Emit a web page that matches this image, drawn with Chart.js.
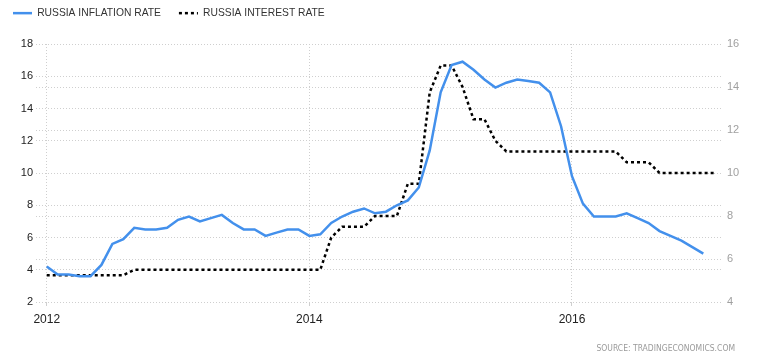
<!DOCTYPE html>
<html>
<head>
<meta charset="utf-8">
<script src="https://cdn.jsdelivr.net/npm/chart.js@4.4.1/dist/chart.umd.min.js"></script>
<style>
  html, body { margin: 0; padding: 0; background: #fff; }
  #wrap { position: relative; width: 767px; height: 363px; }
</style>
</head>
<body>
<div id="wrap"><canvas id="ratesChart"></canvas></div>
<script>
// Données mensuelles, index 0 = janvier 2012
const inflationRate = [
  4.2, 3.7, 3.7, 3.6, 3.6, 4.3, 5.6, 5.9, 6.6, 6.5, 6.5, 6.6,
  7.1, 7.3, 7.0, 7.2, 7.4, 6.9, 6.5, 6.5, 6.1, 6.3, 6.5, 6.5,
  6.1, 6.2, 6.9, 7.3, 7.6, 7.8, 7.5, 7.6, 8.0, 8.3, 9.1, 11.4,
  15.0, 16.7, 16.9, 16.4, 15.8, 15.3, 15.6, 15.8, 15.7, 15.6, 15.0, 12.9,
  9.8, 8.1, 7.3, 7.3, 7.3, 7.5, 7.2, 6.9, 6.4, 6.1, 5.8, 5.4,
  5.0
];
const interestRate = [
  5.25, 5.25, 5.25, 5.25, 5.25, 5.25, 5.25, 5.25, 5.5, 5.5, 5.5, 5.5,
  5.5, 5.5, 5.5, 5.5, 5.5, 5.5, 5.5, 5.5, 5.5, 5.5, 5.5, 5.5,
  5.5, 5.5, 7.0, 7.5, 7.5, 7.5, 8.0, 8.0, 8.0, 9.5, 9.5, 13.75,
  15.0, 15.0, 14.0, 12.5, 12.5, 11.5, 11.0, 11.0, 11.0, 11.0, 11.0, 11.0,
  11.0, 11.0, 11.0, 11.0, 11.0, 10.5, 10.5, 10.5, 10.0, 10.0, 10.0, 10.0,
  10.0, 10.0
];
const yearTickValues = [0, 24, 48];
const yearTickLabels = ['2012', '2014', '2016'];

const toPoints = (arr) => arr.map((v, i) => ({ x: i, y: v }));

const gridColor = '#cfcfcf';

// Texte de la source en bas à droite
const sourcePlugin = {
  id: 'sourceText',
  afterDraw(chart) {
    const ctx = chart.ctx;
    ctx.save();
    ctx.font = '8.5px "DejaVu Sans Condensed", "DejaVu Sans", sans-serif';
    ctx.fillStyle = '#9a9a9a';
    ctx.textAlign = 'right';
    ctx.textBaseline = 'middle';
    ctx.fillText('SOURCE: TRADINGECONOMICS.COM', 735, 349);
    ctx.restore();
  }
};

// Hauteur fixe de la légende + décalage
const legendPlacement = {
  id: 'legendPlacement',
  beforeInit(chart) {
    const fit = chart.legend.fit;
    chart.legend.fit = function() {
      fit.call(this);
      this.height = 44;
    };
  },
  afterLayout(chart) {
    chart.legend.left = -5;
    chart.legend.top = -10;
  }
};

new Chart(document.getElementById('ratesChart'), {
  type: 'line',
  data: {
    datasets: [
      {
        label: 'RUSSIA INFLATION RATE',
        data: toPoints(inflationRate),
        yAxisID: 'y',
        borderColor: '#4390ec',
        backgroundColor: '#4390ec',
        borderWidth: 2.5,
        pointRadius: 0,
        tension: 0,
        fill: false
      },
      {
        label: 'RUSSIA INTEREST RATE',
        data: toPoints(interestRate),
        yAxisID: 'y2',
        borderColor: '#000',
        backgroundColor: '#000',
        borderWidth: 2.5,
        borderDash: [3, 3],
        pointRadius: 0,
        tension: 0,
        fill: false
      }
    ]
  },
  options: {
    responsive: true,
    maintainAspectRatio: false,
    animation: false,
    layout: { padding: 0 },
    plugins: {
      legend: {
        display: true,
        position: 'top',
        align: 'start',
        labels: {
          usePointStyle: true,
          pointStyle: 'line',
          pointStyleWidth: 19,
          padding: 18,
          color: '#333',
          font: { family: '"Liberation Sans", Arial, sans-serif', size: 10.3 },
          // le pointillé du dataset n'est pas repris par défaut avec usePointStyle
          generateLabels(chart) {
            const items = Chart.defaults.plugins.legend.labels.generateLabels(chart);
            items.forEach(item => {
              const ds = chart.data.datasets[item.datasetIndex];
              item.lineDash = ds.borderDash || [];
              item.lineWidth = ds.borderWidth;
            });
            return items;
          }
        }
      },
      tooltip: { enabled: false }
    },
    scales: {
      x: {
        type: 'linear',
        min: -0.98,
        max: 61.8,
        afterBuildTicks(scale) {
          scale.ticks = yearTickValues.map(v => ({ value: v }));
        },
        afterFit(scale) { scale.height = 61; },
        ticks: {
          padding: 6,
          color: '#222',
          font: { family: '"Liberation Sans", Arial, sans-serif', size: 12 },
          callback: (value) => yearTickLabels[yearTickValues.indexOf(value)]
        },
        grid: {
          color: gridColor,
          drawTicks: true,
          tickLength: 4
        },
        border: { display: false, dash: [1, 2] }
      },
      y: {
        position: 'left',
        min: 2,
        max: 18,
        afterFit(scale) { scale.width = 36; },
        ticks: {
          stepSize: 2,
          padding: 3,
          color: '#222',
          font: { family: '"Liberation Sans", Arial, sans-serif', size: 11 }
        },
        grid: { color: gridColor, drawTicks: false },
        border: { display: false, dash: [1, 2] }
      },
      y2: {
        position: 'right',
        min: 4,
        max: 16,
        afterFit(scale) { scale.width = 44; },
        ticks: {
          stepSize: 2,
          padding: 4,
          color: '#a0a0a0',
          font: { family: '"Liberation Sans", Arial, sans-serif', size: 11 }
        },
        grid: { color: gridColor, drawTicks: false },
        border: { display: false, dash: [1, 2] }
      }
    }
  },
  plugins: [legendPlacement, sourcePlugin]
});
</script>
</body>
</html>
